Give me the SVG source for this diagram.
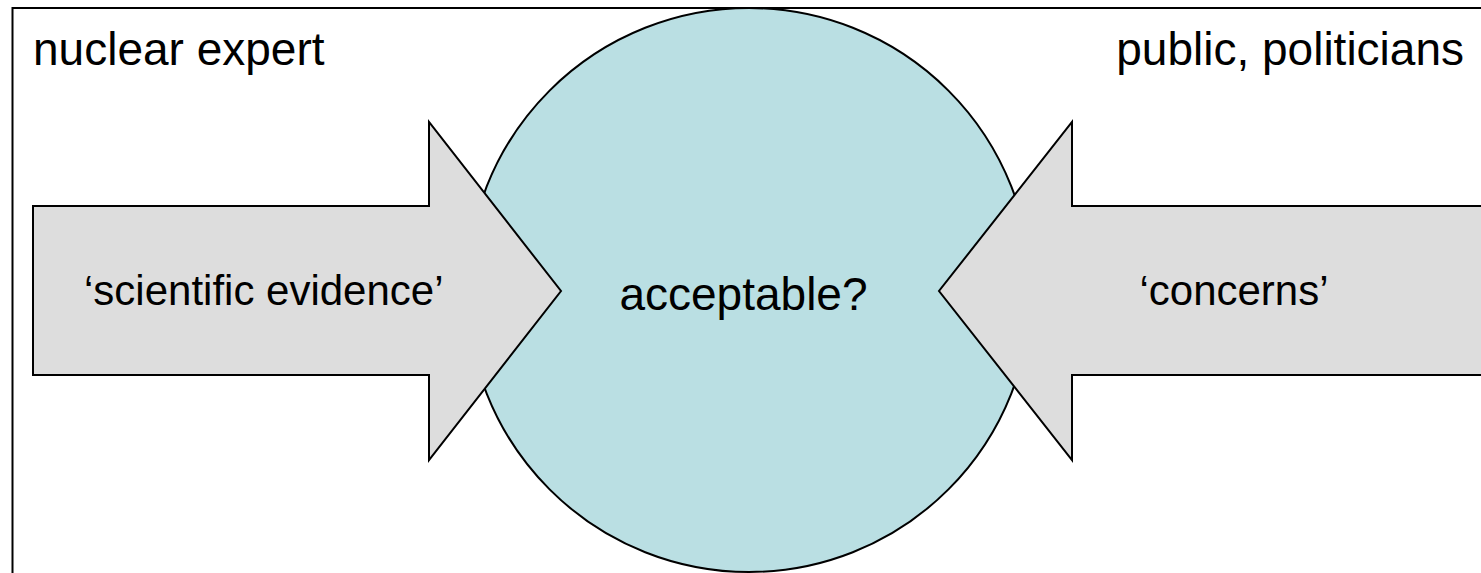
<svg xmlns="http://www.w3.org/2000/svg" width="1481" height="573" viewBox="0 0 1481 573">
<style>
.t{font-family:"Liberation Sans",Arial,sans-serif;fill:#000}
.arrow{fill:#DDDDDD;stroke:#000;stroke-width:2;stroke-linejoin:miter}
</style>
<rect x="0" y="0" width="1481" height="573" fill="#fff"/>
<g id="frame"><rect x="12.5" y="8" width="1490" height="600" fill="none" stroke="#000" stroke-width="2"/></g>
<g id="circle"><circle cx="749" cy="290" r="282" fill="#BADFE3" stroke="#000" stroke-width="2"/>
<text class="t" x="743.5" y="310" font-size="46" text-anchor="middle">acceptable?</text></g>
<g id="left-arrow"><polygon class="arrow" points="33,206 429,206 429,122 561,291 429,460 429,375 33,375"/>
<text class="t" x="84" y="305" font-size="42">‘scientific evidence’</text></g>
<g id="right-arrow"><polygon class="arrow" points="1490,206 1072,206 1072,122 939,291 1072,460 1072,375 1490,375"/>
<text class="t" x="1234" y="305" font-size="42" text-anchor="middle">‘concerns’</text></g>
<g id="labels">
<text class="t" x="33" y="65" font-size="46">nuclear expert</text>
<text class="t" x="1464" y="65" font-size="46" text-anchor="end">public, politicians</text>
</g>
<g id="connectors"/>
</svg>
